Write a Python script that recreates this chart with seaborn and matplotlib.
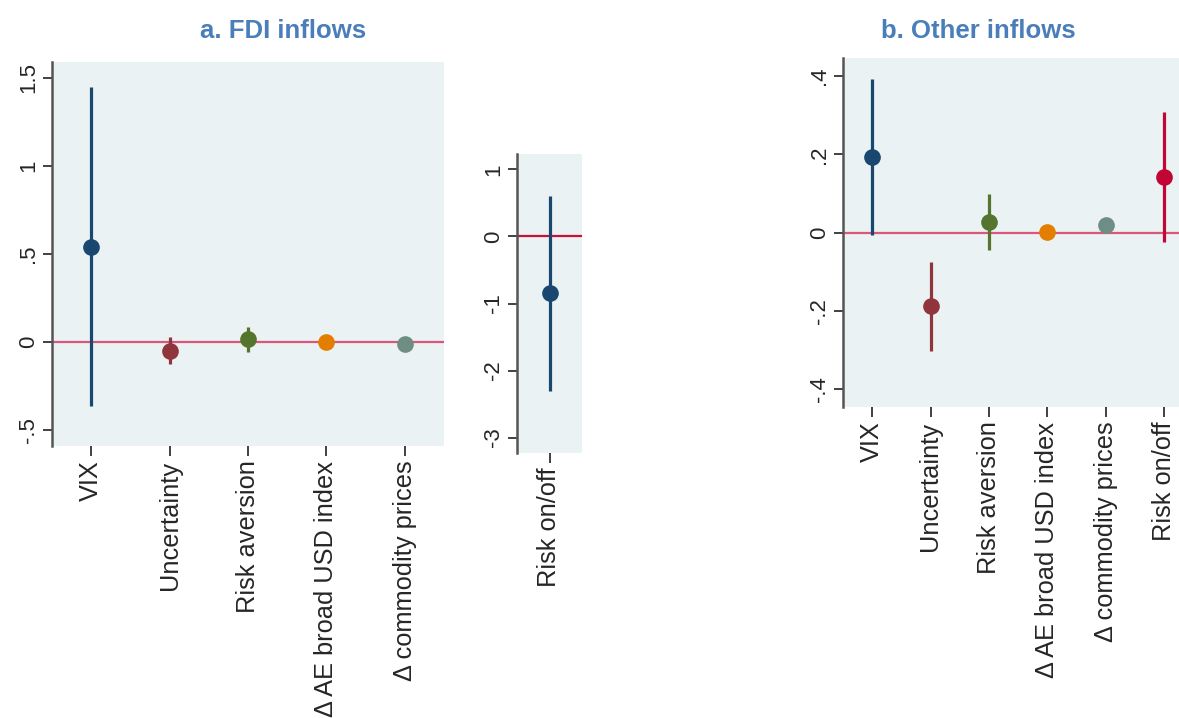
import numpy as np
import pandas as pd
import matplotlib
matplotlib.use("Agg")
import matplotlib.pyplot as plt
import seaborn as sns
from matplotlib.ticker import FuncFormatter, FixedLocator

# ---------------- data ----------------
fdi_cats = ["VIX", "Uncertainty", "Risk aversion", "Δ AE broad USD index", "Δ commodity prices"]
fdi_coef = [0.54, -0.05, 0.017, 0.002, -0.011]
fdi_lo = [-0.364, -0.125, -0.055, -0.008, -0.018]
fdi_hi = [1.447, 0.03, 0.087, 0.012, -0.004]
fdi_ticks = [-0.5, 0, 0.5, 1, 1.5]

fdi_risk_cats = ["Risk on/off"]
fdi_risk_coef = [-0.846]
fdi_risk_lo = [-2.30]
fdi_risk_hi = [0.60]
fdi_risk_ticks = [-3, -2, -1, 0, 1]

oth_cats = ["VIX", "Uncertainty", "Risk aversion", "Δ AE broad USD index", "Δ commodity prices", "Risk on/off"]
oth_coef = [0.194, -0.187, 0.027, 0.001, 0.020, 0.142]
oth_lo = [-0.006, -0.301, -0.044, -0.005, 0.013, -0.025]
oth_hi = [0.392, -0.074, 0.098, 0.007, 0.027, 0.309]
oth_ticks = [-0.4, -0.2, 0, 0.2, 0.4]

colors = {"VIX": "#1a476f", "Uncertainty": "#90353b", "Risk aversion": "#55752f",
          "Δ AE broad USD index": "#e37e00", "Δ commodity prices": "#6e8e84",
          "Risk on/off": "#c10534"}
risk_onoff_fdi_color = "#1a476f"

# ---------------- style ----------------
sns.set_style("white")
plt.rcParams["font.family"] = ["Liberation Sans", "DejaVu Sans"]

W, H = 1179, 718
fig = plt.figure(figsize=(W / 100, H / 100), dpi=100)
BG = "#eaf2f3"
TITLE_C = "#4a7ebb"


def stata_fmt(v, pos):
    s = ("%g" % round(v, 3))
    if s.startswith("0.") and len(s) > 2:
        s = s[1:]
    elif s.startswith("-0."):
        s = "-" + s[2:]
    return s


def panel(rect, cats, coef, lo, hi, ticks, ylim, palette, zero_c, ylab_size=16, xlab_size=18.3):
    ax = fig.add_axes(rect)
    ax.set_facecolor(BG)
    df = pd.DataFrame({"cat": cats, "coef": coef, "lo": lo, "hi": hi})
    xs = np.arange(len(cats))
    ax.axhline(0, color=zero_c, lw=1.6, zorder=1)
    for i, r in df.iterrows():
        ax.vlines(i, r["lo"], r["hi"], color=palette[r["cat"]], lw=2.3, zorder=2)
    sns.stripplot(data=df, x="cat", y="coef", hue="cat", palette=palette, jitter=False,
                  size=12, linewidth=0, legend=False, ax=ax, zorder=3)
    ax.set_xlim(-0.5, len(cats) - 0.5)
    ax.set_ylim(*ylim)
    ax.set_xlabel("")
    ax.set_ylabel("")
    ax.yaxis.set_major_locator(FixedLocator(ticks))
    ax.yaxis.set_major_formatter(FuncFormatter(stata_fmt))
    ax.set_xticks(xs)
    ax.set_xticklabels(cats, rotation=90, ha="center", va="top", fontsize=xlab_size)
    for t in ax.get_yticklabels():
        t.set_rotation(90)
        t.set_va("center")
        t.set_fontsize(ylab_size)
    ax.tick_params(axis="x", bottom=True, length=7.5, width=1.3, color="#333333", pad=3)
    ax.tick_params(axis="y", left=True, length=6.5, width=1.3, color="#333333", pad=3)
    for s in ["top", "right", "bottom"]:
        ax.spines[s].set_visible(False)
    ax.spines["left"].set_color("#555555")
    ax.spines["left"].set_linewidth(1.8)
    return ax


def rect_px(l, t, r, b):
    return [l / W, 1 - b / H, (r - l) / W, (b - t) / H]


panel(rect_px(52, 62, 444, 446), fdi_cats, fdi_coef, fdi_lo, fdi_hi, fdi_ticks,
      (-0.59, 1.59), colors, "#d9577a")
panel(rect_px(517, 154, 582, 453), fdi_risk_cats, fdi_risk_coef, fdi_risk_lo, fdi_risk_hi,
      fdi_risk_ticks, (-3.23, 1.23), {"Risk on/off": risk_onoff_fdi_color}, "#c8103c")
panel(rect_px(843, 58, 1193, 407), oth_cats, oth_coef, oth_lo, oth_hi, oth_ticks,
      (-0.445, 0.446), colors, "#d9577a")

fig.text(283 / W, 1 - 31 / H, "a. FDI inflows", ha="center", va="center",
         fontsize=18.5, fontweight="bold", color=TITLE_C)
fig.text(978 / W, 1 - 31 / H, "b. Other inflows", ha="center", va="center",
         fontsize=18.5, fontweight="bold", color=TITLE_C)

fig.savefig("out.png", dpi=100, facecolor="white")
